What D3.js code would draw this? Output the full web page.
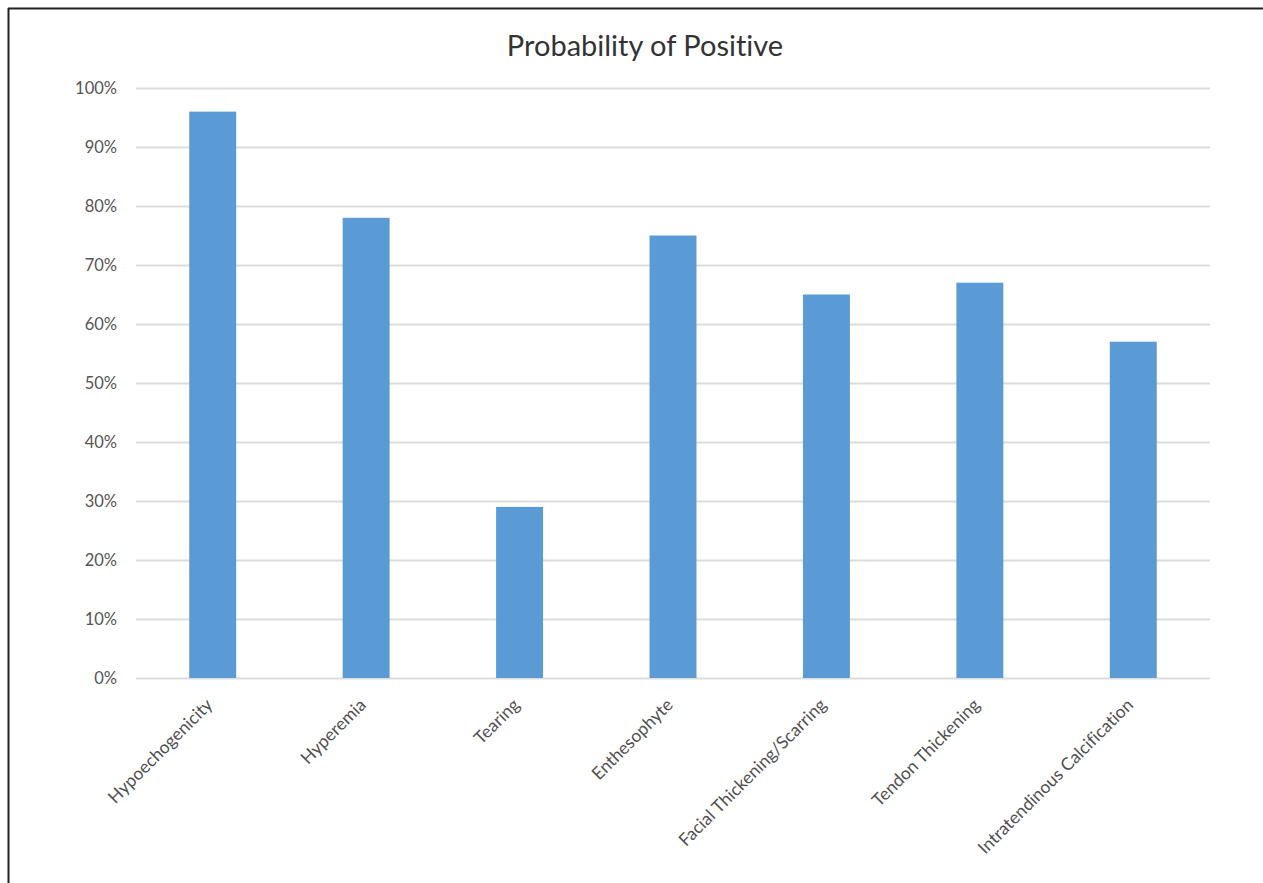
<!DOCTYPE html>
<html><head><meta charset="utf-8">
<script src="https://cdn.jsdelivr.net/npm/d3@7"></script>
<style>body{margin:0;background:#fff;}svg{display:block;}text{font-variant-ligatures:none;}</style>
</head><body>
<script>
const categories = ["Hypoechogenicity","Hyperemia","Tearing","Enthesophyte","Facial Thickening/Scarring","Tendon Thickening","Intratendinous Calcification"];
const values = [0.96,0.78,0.29,0.75,0.65,0.67,0.57];
const yTicks = [0,0.1,0.2,0.3,0.4,0.5,0.6,0.7,0.8,0.9,1.0];
const title = "Probability of Positive";

(function(){
const W = 1263, H = 883;
const svg = d3.select("body").append("svg").attr("width", W).attr("height", H);
svg.append("rect").attr("width", W).attr("height", H).attr("fill", "#fff");
svg.append("line").attr("x1", 8).attr("x2", W).attr("y1", 8.5).attr("y2", 8.5).attr("stroke", "#222").attr("stroke-width", 2);
svg.append("line").attr("x1", 8.5).attr("x2", 8.5).attr("y1", 8).attr("y2", H).attr("stroke", "#222").attr("stroke-width", 2);

const mLeft = 136, mRight = 1210, mTop = 88, mBottom = 678;
const x = d3.scaleBand().domain(categories).range([mLeft, mRight]).paddingInner(0.694).paddingOuter(0.347);
const y = d3.scaleLinear().domain([0, 1]).range([mBottom, mTop]);
const font = "Lato, 'Open Sans', sans-serif";

svg.append("text").attr("x", 645).attr("y", 56).attr("text-anchor", "middle")
  .attr("font-family", font).attr("font-size", 29).attr("fill", "#333").text(title);

const yAxis = d3.axisLeft(y).tickValues(yTicks).tickFormat(d3.format(".0%")).tickSize(-(mRight - mLeft)).tickPadding(19);
const gy = svg.append("g").attr("transform", `translate(${mLeft},0)`).call(yAxis);
gy.select(".domain").remove();
gy.selectAll(".tick line").attr("stroke", "#dcdcdc").attr("stroke-width", 2);
gy.selectAll(".tick text").attr("font-family", font).attr("font-size", 16.5).attr("fill", "#555");

svg.append("g").selectAll("rect").data(values).join("rect")
  .attr("x", (d, i) => x(categories[i])).attr("width", x.bandwidth())
  .attr("y", d => y(d)).attr("height", d => y(0) - y(d))
  .attr("fill", "#5b9bd5");

const xAxis = d3.axisBottom(x).tickSize(0).tickPadding(0);
const gx = svg.append("g").attr("transform", `translate(0,${mBottom})`).call(xAxis);
gx.select(".domain").remove();
gx.selectAll(".tick text")
  .attr("font-family", font).attr("font-size", 17.5).attr("fill", "#505050")
  .attr("text-anchor", "end").attr("dy", 0)
  .attr("transform", "translate(1,28) rotate(-45)");
})();
</script>
</body></html>
